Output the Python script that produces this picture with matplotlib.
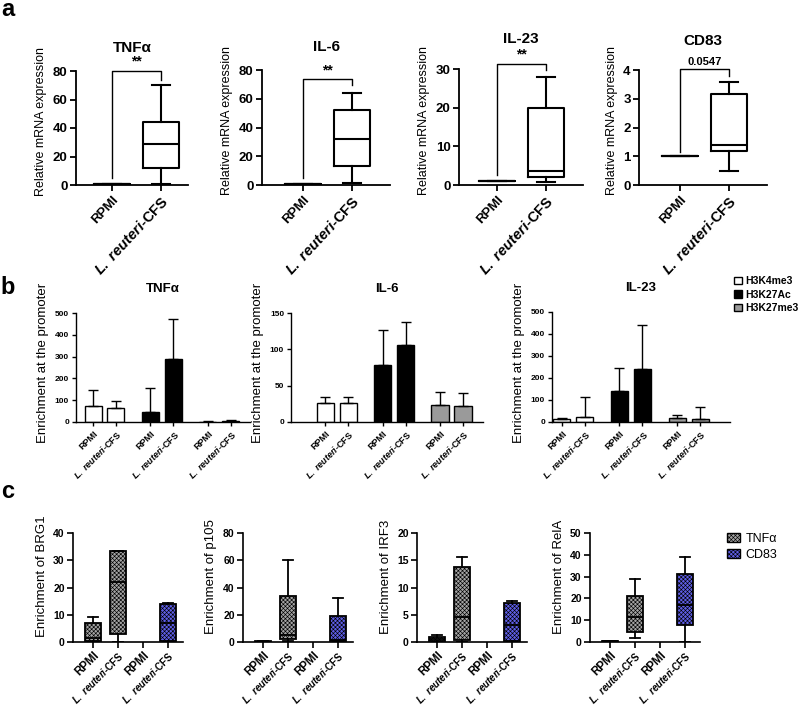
import numpy as np
import matplotlib
matplotlib.use('Agg')
import matplotlib.pyplot as plt
from matplotlib.patches import Patch

plt.rcParams['font.family'] = ['Liberation Sans', 'DejaVu Sans']
plt.rcParams['font.weight'] = 'bold'
plt.rcParams['mathtext.fontset'] = 'custom'
plt.rcParams['mathtext.it'] = 'Liberation Sans:italic:bold'
plt.rcParams['mathtext.rm'] = 'Liberation Sans:bold'
plt.rcParams['hatch.linewidth'] = 0.45

CFS = r'$\mathit{L.\ reuteri}$-CFS'

# ---- panel a : relative mRNA expression (box = min / q1 / median / q3 / max)
a_genes = ['TNF\u03b1', 'IL-6', 'IL-23', 'CD83']
a_rpmi = [1.0, 1.0, 1.0, 1.0]
a_cfs_min = [1.0, 1.5, 0.8, 0.48]
a_cfs_q1 = [12.0, 13.5, 2.0, 1.2]
a_cfs_med = [28.5, 32.0, 3.7, 1.38]
a_cfs_q3 = [44.0, 52.0, 19.8, 3.15]
a_cfs_max = [70.0, 64.0, 28.0, 3.6]
a_ymax = [80, 80, 30, 4]
a_ystep = [20, 20, 10, 1]
a_sig = ['**', '**', '**', '0.0547']
a_br_top = [80.0, 73.7, 31.3, 4.03]
a_br_left = [5.0, 5.0, 2.6, 1.15]
a_br_right = [74.0, 69.5, 29.7, 3.8]

# ---- panel b : ChIP enrichment, mean and SD (RPMI, CFS) per histone mark
b_genes = ['TNF\u03b1', 'IL-6', 'IL-23']
b_marks = ['H3K4me3', 'H3K27Ac', 'H3K27me3']
b_colors = ['white', 'black', '#9a9a9a']
b_mean = [[[75, 63], [45, 287], [2, 3]],
          [[26, 26], [79, 106], [23, 22]],
          [[15, 22], [143, 240], [20, 13]]]
b_sd = [[[72, 35], [110, 186], [3, 5]],
        [[8, 9], [47, 32], [18, 17.5]],
        [[5, 93], [104, 203], [10, 57]]]
b_ymax = [500, 150, 500]
b_ystep = [100, 50, 100]

# ---- panel c : enrichment of factors, groups = TNFa RPMI, TNFa CFS, CD83 RPMI, CD83 CFS
c_targets = ['BRG1', 'p105', 'IRF3', 'RelA']
c_min = [[0, 0, 0, 0], [0.2, 0.5, 0, 0], [0, 0, 0, 0], [0.2, 2, 0, 0]]
c_q1 = [[0.5, 3, 0, 0.3], [0.2, 2.5, 0, 1], [0.2, 0.3, 0, 0.2], [0.2, 4.5, 0, 7.8]]
c_med = [[1.3, 22, 0, 7], [0.3, 5, 0, 1.5], [0.5, 4.6, 0, 3.2], [0.3, 11.3, 0, 17]]
c_q3 = [[7, 33.3, 0, 14], [0.4, 34, 0, 19], [0.9, 13.7, 0, 7.2], [0.4, 21.3, 0, 31]]
c_max = [[9, 33.5, 0, 14.2], [0.5, 60, 0, 32], [1.3, 15.6, 0, 7.6], [0.5, 29, 0, 39]]
c_ymax = [40, 80, 20, 50]
c_ystep = [10, 20, 5, 10]
c_genes = ['TNF\u03b1', 'CD83']
c_colors = ['#a4a4a4', '#5e5ee6']

W, H = 800, 706
fig = plt.figure(figsize=(W / 100, H / 100), dpi=100)


def px_ax(l, t, r, b):
    return fig.add_axes([l / W, 1 - b / H, (r - l) / W, (b - t) / H])


def style(ax, lw, fs):
    for s in ['top', 'right']:
        ax.spines[s].set_visible(False)
    for s in ['left', 'bottom']:
        ax.spines[s].set_linewidth(lw)
    ax.tick_params(width=lw, length=4, labelsize=fs, pad=2)


def xlabels(ax, labels, fs_rpmi, fs_cfs, rot=45):
    ax.set_xticklabels(labels, rotation=rot, ha='right', rotation_mode='anchor')
    for lab in ax.get_xticklabels():
        lab.set_fontsize(fs_rpmi if lab.get_text() == 'RPMI' else fs_cfs)


# panel a
a_rects = [(76, 71, 188, 185), (262, 70, 390, 185), (459, 69, 583, 185), (639, 70, 767, 185)]
a_xlims = [(-0.73, 1.55), (-0.84, 1.78), (-0.78, 1.76), (-0.84, 1.78)]
a_pads = [14, 14, 19, 18]
for i, gene in enumerate(a_genes):
    ax = px_ax(*a_rects[i])
    r = a_rpmi[i]
    stats = [dict(med=r, q1=r, q3=r, whislo=r, whishi=r),
             dict(med=a_cfs_med[i], q1=a_cfs_q1[i], q3=a_cfs_q3[i],
                  whislo=a_cfs_min[i], whishi=a_cfs_max[i])]
    lp = dict(lw=1.5, color='black')
    ax.bxp(stats, positions=[0, 1], widths=0.73, showfliers=False, capwidths=0.37,
           boxprops=lp, whiskerprops=lp, capprops=lp, medianprops=lp)
    style(ax, 1.3, 9.5)
    ax.set_xlim(*a_xlims[i])
    ax.set_ylim(0, a_ymax[i])
    ax.set_yticks(np.arange(0, a_ymax[i] + 1e-9, a_ystep[i]))
    ax.set_xticks([0, 1])
    xlabels(ax, ['RPMI', CFS], 9.5, 10.5, rot=47)
    ax.set_ylabel('Relative mRNA expression', fontsize=9, fontweight='normal', labelpad=4)
    ax.yaxis.label.set_y(0.56)
    ax.set_title(gene, fontsize=11, fontweight='bold', pad=a_pads[i])
    ax.plot([0, 0, 1, 1], [a_br_left[i], a_br_top[i], a_br_top[i], a_br_right[i]],
            color='black', lw=1, clip_on=False)
    ax.annotate(a_sig[i], (0.5, a_br_top[i]), xytext=(0, 1.5), textcoords='offset points',
                ha='center', va='bottom', fontsize=10 if a_sig[i] == '**' else 8, annotation_clip=False)

# panel b
b_rects = [(76, 313, 250, 422), (291, 313, 483, 422), (552, 312, 730, 422)]
b_xlims = [(-0.74, 6.83), (-1.48, 6.87), (-0.43, 7.3)]
b_pos = np.array([0, 1, 2.5, 3.5, 5, 6])
for i, gene in enumerate(b_genes):
    ax = px_ax(*b_rects[i])
    for m in range(3):
        x = b_pos[2 * m:2 * m + 2]
        ax.bar(x, b_mean[i][m], width=0.74, color=b_colors[m], edgecolor='black', lw=1,
               yerr=[[0, 0], b_sd[i][m]], capsize=3.5,
               error_kw=dict(elinewidth=1, capthick=1, ecolor='black'))
    style(ax, 1.0, 6)
    ax.tick_params(length=3)
    ax.set_xlim(*b_xlims[i])
    ax.set_ylim(0, b_ymax[i])
    ax.set_yticks(np.arange(0, b_ymax[i] + 1e-9, b_ystep[i]))
    ax.set_xticks(b_pos)
    xlabels(ax, ['RPMI', CFS] * 3, 6.5, 6.5)
    ax.set_ylabel('Enrichment at the promoter', fontsize=9.5, labelpad=4)
    ax.yaxis.label.set_y(0.54)
    ax.set_title(gene, fontsize=9.5, fontweight='bold', pad=15)

fig.legend(handles=[Patch(facecolor=c, edgecolor='black', lw=1) for c in b_colors], labels=b_marks,
           loc='upper left', bbox_to_anchor=(734 / W, 1 - 276 / H), frameon=False,
           borderpad=0, borderaxespad=0, handlelength=0.75, handleheight=0.75,
           handletextpad=0.3, labelspacing=0.35, fontsize=7.5)

# panel c
c_lefts = [73, 243, 417, 590]
for i, target in enumerate(c_targets):
    ax = px_ax(c_lefts[i], 533, c_lefts[i] + 110, 642)
    stats, pos, cols = [], [], []
    for g in range(4):
        if c_max[i][g] <= 0:
            continue
        stats.append(dict(med=c_med[i][g], q1=c_q1[i][g], q3=c_q3[i][g],
                          whislo=c_min[i][g], whishi=c_max[i][g]))
        pos.append(g)
        cols.append(c_colors[g // 2])
    lp = dict(lw=1.3, color='black')
    res = ax.bxp(stats, positions=pos, widths=0.64, showfliers=False, capwidths=0.42, patch_artist=True,
                 boxprops=dict(lw=1.3, edgecolor='black'), whiskerprops=lp, capprops=lp, medianprops=lp)
    for box, col in zip(res['boxes'], cols):
        box.set_facecolor(col)
        box.set_hatch('xxxxxxxx')
    style(ax, 1.2, 7.5)
    ax.tick_params(axis='x', pad=1)
    ax.set_xlim(-0.8, 3.6)
    ax.set_ylim(0, c_ymax[i])
    ax.set_yticks(np.arange(0, c_ymax[i] + 1e-9, c_ystep[i]))
    ax.set_xticks([0, 1, 2, 3])
    xlabels(ax, ['RPMI', CFS] * 2, 8.3, 7)
    ax.set_ylabel('Enrichment of ' + target, fontsize=9.5, fontweight='normal', labelpad=4)
    ax.yaxis.label.set_y(0.6)

fig.legend(handles=[Patch(facecolor=c, edgecolor='black', lw=1, hatch='xxxxxxxx') for c in c_colors],
           labels=c_genes, loc='upper left', bbox_to_anchor=(727 / W, 1 - 533 / H), frameon=False,
           borderpad=0, borderaxespad=0, handlelength=1.05, handleheight=0.75,
           handletextpad=0.45, labelspacing=0.3, prop=dict(size=9, weight='normal'))

# panel letters
fig.text(8 / W, 1 - 10 / H, 'a', fontsize=17, fontweight='bold', ha='center', va='center')
fig.text(8 / W, 1 - 288 / H, 'b', fontsize=17, fontweight='bold', ha='center', va='center')
fig.text(8 / W, 1 - 492 / H, 'c', fontsize=17, fontweight='bold', ha='center', va='center')

fig.savefig('out.png', dpi=100, facecolor='white')
